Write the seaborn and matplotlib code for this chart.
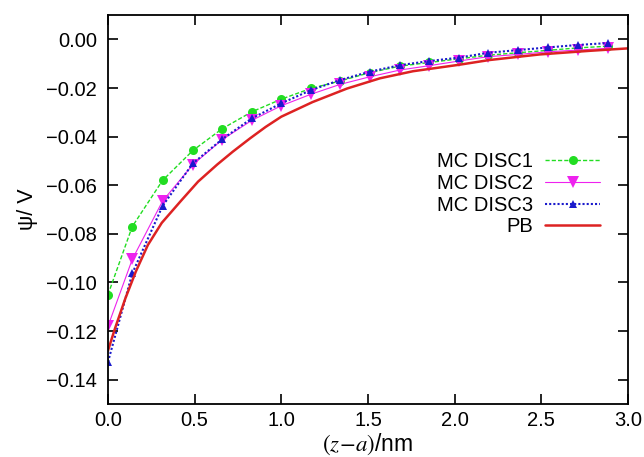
import matplotlib
matplotlib.use("Agg")
import matplotlib.pyplot as plt
from matplotlib.ticker import FuncFormatter
import seaborn as sns
import numpy as np

# MC data, sampled on bins
z_mc = [0, 0.14, 0.315, 0.49, 0.66, 0.83, 1.0, 1.17, 1.34, 1.51,
        1.685, 1.855, 2.025, 2.195, 2.365, 2.54, 2.71, 2.885]
psi_disc1 = [-0.105, -0.077, -0.058, -0.0457, -0.0367, -0.0298, -0.0246, -0.0202, -0.0171, -0.0137,
             -0.011, -0.0095, -0.008, -0.0065, -0.0055, -0.0045, -0.0035, -0.0028]
psi_disc2 = [-0.118, -0.0905, -0.0665, -0.0515, -0.0412, -0.0333, -0.0273, -0.0226, -0.0185, -0.0154,
             -0.0126, -0.0108, -0.0089, -0.0071, -0.0062, -0.0051, -0.0044, -0.0037]
psi_disc3 = [-0.1327, -0.0963, -0.0685, -0.051, -0.041, -0.0325, -0.0263, -0.0209, -0.0167, -0.0133,
             -0.0106, -0.0089, -0.0075, -0.0055, -0.0044, -0.0033, -0.0023, -0.0015]

# Poisson-Boltzmann curve
z_pb = [0, 0.04, 0.1, 0.16, 0.23, 0.31, 0.42, 0.52, 0.63, 0.72, 0.82, 0.91, 1.0, 1.18, 1.38,
        1.57, 1.76, 2.03, 2.2, 2.49, 2.78, 3.0]
psi_pb = [-0.128, -0.119, -0.1066, -0.0956, -0.0846, -0.0755, -0.0665, -0.0585, -0.0515, -0.0462,
          -0.0407, -0.036, -0.0318, -0.0258, -0.0202, -0.016, -0.0131, -0.0104, -0.0085, -0.0062,
          -0.0047, -0.0037]

sns.set_style("ticks")
plt.rcParams['font.family'] = ['Liberation Sans', 'DejaVu Sans']
plt.rcParams['mathtext.fontset'] = 'stix'
plt.rcParams['text.color'] = 'black'
plt.rcParams['axes.labelcolor'] = 'black'

fig = plt.figure(figsize=(6.44, 4.57), dpi=100)
ax = fig.add_axes([0.1677, 0.116, 0.8073, 0.851])

sns.lineplot(x=z_mc, y=psi_disc1, ax=ax, color="#22dd22", linestyle=(0, (3, 1.5)), lw=1.0,
             marker="o", markersize=6.5, markeredgewidth=0, label="MC DISC1")
sns.lineplot(x=z_mc, y=psi_disc2, ax=ax, color="#ee22ee", linestyle="-", lw=0.8,
             marker="v", markersize=9, markeredgewidth=0, label="MC DISC2")
sns.lineplot(x=z_mc, y=psi_disc3, ax=ax, color="#1a1acc", linestyle=(0, (1, 1)), lw=1.5,
             marker="^", markersize=5.5, markeredgewidth=0, label="MC DISC3")
sns.lineplot(x=z_pb, y=psi_pb, ax=ax, color="#dd2222", linestyle="-", lw=1.8, label="PB")

ax.set_xlim(0, 3.0)
ax.set_ylim(-0.15, 0.01)
ax.set_xticks(np.arange(0, 3.01, 0.5))
ax.set_yticks(np.arange(-0.14, 0.001, 0.02))
ax.xaxis.set_major_formatter(FuncFormatter(lambda v, p: f"{v:.1f}".replace("-", "\u2212")))
ax.yaxis.set_major_formatter(FuncFormatter(lambda v, p: f"{v:.2f}".replace("-", "\u2212") if abs(v) > 1e-9 else "0.00"))
ax.tick_params(direction="in", length=7, width=1.2, top=True, right=True, labelsize=14.5,
               colors="black")
ax.tick_params(axis="x", pad=5)
ax.tick_params(axis="y", pad=8)
for s in ax.spines.values():
    s.set_linewidth(1.3)
    s.set_color("black")

ax.set_xlabel(r"$(z\!-\!a)$/nm", fontsize=16.5, labelpad=1)
ax.set_ylabel("ψ/ V", fontsize=15.5, labelpad=6)

leg = ax.legend(loc="upper right", bbox_to_anchor=(0.946, 0.647), frameon=False, markerfirst=False,
                fontsize=14.5, handlelength=2.7, handletextpad=0.6, labelspacing=0.13, borderaxespad=0,
                borderpad=0)

plt.savefig("out.png", dpi=100)
